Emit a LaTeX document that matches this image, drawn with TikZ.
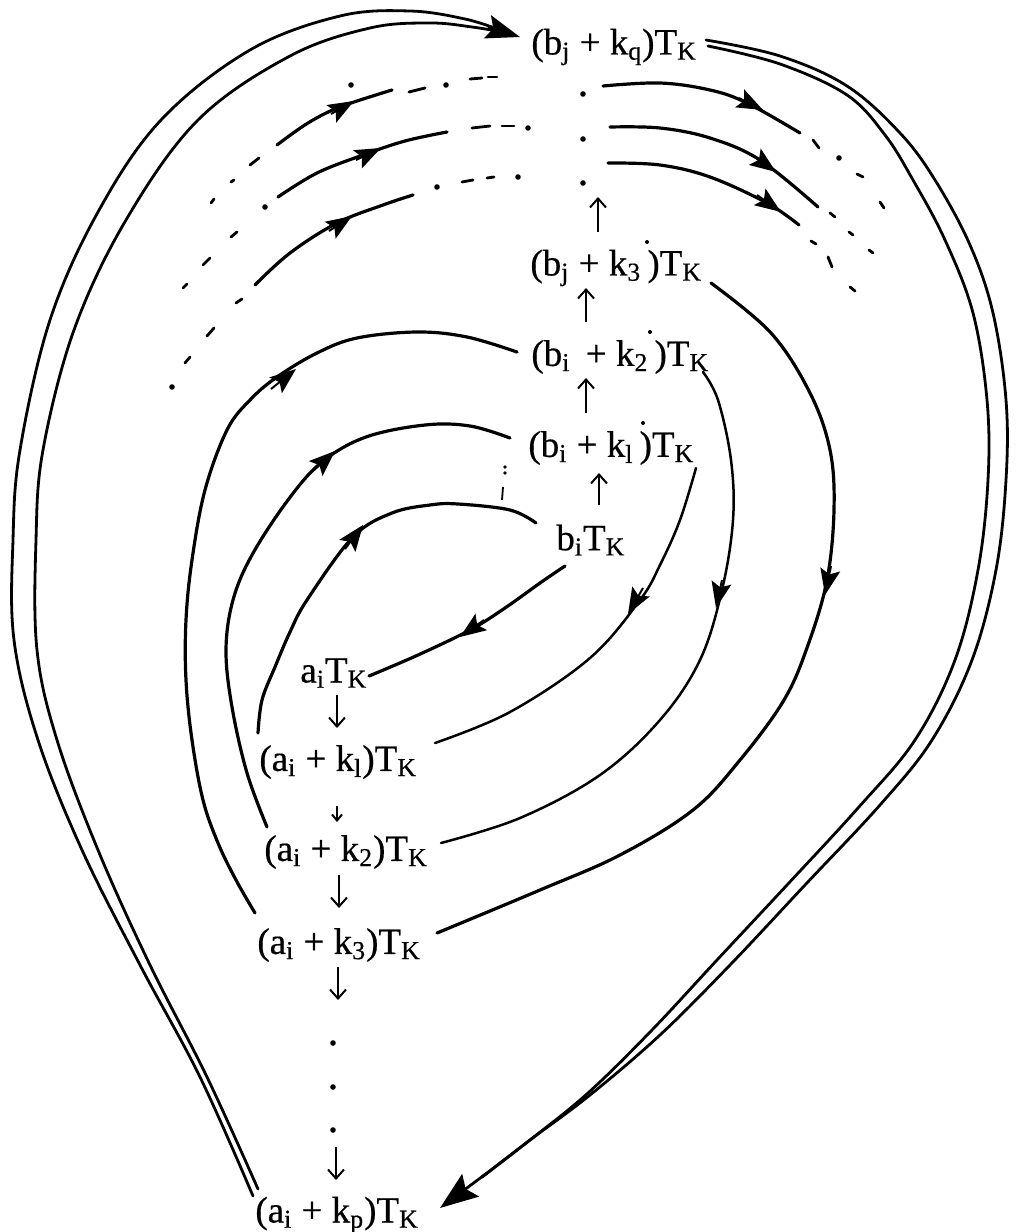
\documentclass[tikz,border=0pt]{standalone}
\usepackage{fontspec}
\setmainfont{Liberation Serif}
\newfontfamily\lblfont{Liberation Serif}[FakeBold=0.5]
\usetikzlibrary{arrows.meta}
\newcommand{\sbs}[1]{\textsubscript{#1}}
\begin{document}
\begin{tikzpicture}[x=0.5pt,y=-0.5pt,
  lbl/.style={inner sep=0pt, anchor=west, font=\lblfont\fontsize{18.5}{22}\selectfont},
  curve/.style={line width=1.6pt, line cap=round},
  thincurve/.style={line width=1.25pt, line cap=round},
  outerline/.style={line width=1.4pt, line cap=round},
  midarrow/.style={-{Stealth[length=13pt,width=10pt,inset=2.5pt]}, line width=1pt},
  bigarrow/.style={-{Stealth[length=17pt,width=12pt,inset=3pt]}, line width=1.4pt},
  vert/.style={-{Straight Barb[length=4.5pt,width=8pt]}, line width=1pt},
  dsh/.style={line width=1.4pt, line cap=round},
  dotr/.style={radius=1.4pt},
]
\fill[white] (0,0) rectangle (1017,1232);
\useasboundingbox (0,0) rectangle (1017,1232);

% ---------- labels ----------
\node[lbl] (bq) at (531,47)  {(b\sbs{j} + k\sbs{q})T\sbs{K}};
\node[lbl] (b3) at (530,268) {(b\sbs{j} + k\sbs{3}\,)T\sbs{K}};
\node[lbl] (b2) at (531,357) {(b\sbs{i}\, + k\sbs{2}\,)T\sbs{K}};
\node[lbl] (b1) at (528,448) {(b\sbs{i} + k\sbs{l}\,)T\sbs{K}};
\node[lbl] (b0) at (556,540) {b\sbs{i}T\sbs{K}};
\node[lbl] (a0) at (300,673) {a\sbs{i}T\sbs{K}};
\node[lbl] (a1) at (259,762) {(a\sbs{i} + k\sbs{l})T\sbs{K}};
\node[lbl] (a2) at (264,852) {(a\sbs{i} + k\sbs{2})T\sbs{K}};
\node[lbl] (a3) at (257,945) {(a\sbs{i} + k\sbs{3})T\sbs{K}};
\node[lbl] (ap) at (255,1215) {(a\sbs{i} + k\sbs{p})T\sbs{K}};

% ---------- end coordinates ----------
\coordinate (apL1) at (253,1196);
\coordinate (apL2) at (258,1189);
\coordinate (bqW) at (520,37);
\coordinate (bqE1) at (706,40);
\coordinate (bqE2) at (708,46);
\coordinate (apE) at (440,1208);
\coordinate (b0S) at (565,566);
\coordinate (a0E) at (369,676);
\coordinate (b1E) at (696,468);
\coordinate (a1E) at (435,743);
\coordinate (b2E) at (703,372);
\coordinate (a2E) at (441,843);
\coordinate (b3E) at (711,283);
\coordinate (a3E) at (437,933);
\coordinate (a1W) at (258,733);
\coordinate (b0W) at (536,523);
\coordinate (a2W) at (267,827);
\coordinate (b1W) at (510,438);
\coordinate (a3W) at (255,913);
\coordinate (b2W) at (517,352);

% ---------- outer loops ----------
\draw[outerline] plot[smooth,tension=0.6] coordinates {(apL1) (200,1077) (140,965) (82,850) (38,740) (14,640) (13,540) (20,450) (50,320) (98,212) (161,120) (250,50) (340,16) (410,11) (465,19) (500,30)};
\draw[outerline] plot[smooth,tension=0.6] coordinates {(apL2) (207,1077) (150,965) (98,850) (57,740) (37,650) (36,540) (43,450) (74,330) (126,220) (198,120) (290,56) (370,28) (430,23) (472,27) (502,32)};
\draw[bigarrow] (488,27) -- (bqW);

\draw[outerline] plot[smooth,tension=0.6] coordinates {(bqE1) (780,56) (847,86) (900,133) (935,180) (970,245) (993,313) (1006,400) (1006,480) (996,570) (972,660) (932,740) (880,805) (805,885) (730,965) (660,1035) (590,1095) (530,1140) (482,1177)};
\draw[outerline] plot[smooth,tension=0.6] coordinates {(bqE2) (780,64) (847,95) (885,135) (913,180) (945,240) (973,313) (987,400) (988,480) (978,570) (955,660) (915,740) (858,808) (787,885) (717,960) (652,1030) (588,1093) (530,1140) (482,1177)};
\draw[bigarrow, -{Stealth[length=19pt,width=14pt,inset=3pt]}] (487,1173) -- (apE);

% ---------- right arcs (down) ----------
\draw[curve] plot[smooth,tension=0.6] coordinates {(b0S) (540,583) (505,608) (470,630) (418,655) (a0E)};
\draw[midarrow] (484,620) -- (460,637);
\draw[thincurve] plot[smooth,tension=0.6] coordinates {(b1E) (680,520) (660,565) (640,600) (590,658) (510,712) (a1E)};
\draw[midarrow] (643,588) -- (628,614);
\draw[thincurve] plot[smooth,tension=0.6] coordinates {(b2E) (718,400) (731,460) (733,520) (722,590) (700,660) (660,720) (600,775) (520,818) (a2E)};
\draw[midarrow] (722,580) -- (716,608);
\draw[curve] plot[smooth,tension=0.6] coordinates {(b3E) (771,333) (810,393) (830,450) (834,510) (827,580) (808,645) (784,700) (740,760) (693,810) (620,855) (540,890) (a3E)};
\draw[midarrow] (831,566) -- (825,595);

% ---------- left arcs (up) ----------
\draw[curve] plot[smooth,tension=0.6] coordinates {(a1W) (262,700) (275,667) (290,632) (307,600) (353,537) (392,513) (430,505) (458,504) (510,510) (b0W)};
\draw[midarrow] (345,549) -- (363,525);
\draw[curve] plot[smooth,tension=0.6] coordinates {(a2W) (247,773) (232,707) (226,650) (233,600) (252,555) (288,500) (322,462) (366,437) (425,425) (470,426) (b1W)};
\draw[midarrow] (313,471) -- (335,451);
\draw[curve] plot[smooth,tension=0.6] coordinates {(a3W) (236,880) (218,843) (203,800) (192,740) (186,680) (186,620) (192,560) (205,490) (227,430) (250,400) (277,377) (317,353) (357,338) (417,332) (467,337) (b2W)};
\draw[midarrow] (271,389) -- (296,369);

% ---------- dashed outer arcs ----------
\draw[curve] plot[smooth,tension=0.6] coordinates {(277,145) (308,123) (340,107) (392,90)};
\draw[midarrow] (331,114) -- (354,101);
\draw[curve] plot[smooth,tension=0.6] coordinates {(278,197) (317,173) (363,155) (405,141) (447,132)};
\draw[midarrow] (356,160) -- (381,148);
\draw[curve] plot[smooth,tension=0.6] coordinates {(255,285) (290,253) (337,223) (383,205) (413,195)};
\draw[midarrow] (329,231) -- (352,216);

\draw[curve] plot[smooth,tension=0.6] coordinates {(603,86) (660,83) (710,90) (747,103) (800,133)};
\draw[midarrow] (739,98) -- (763,110);
\draw[curve] plot[smooth,tension=0.6] coordinates {(610,127) (660,128) (710,138) (760,160) (818,207)};
\draw[midarrow] (751,154) -- (776,172);
\draw[curve] plot[smooth,tension=0.6] coordinates {(608,163) (660,165) (710,177) (767,203) (799,225)};
\draw[midarrow] (757,195) -- (781,212);

% dashes, left lower
\draw[dsh] (250,165) -- (259,158);
\draw[dsh] (231,182) -- (234,180);
\draw[dsh] (211,203) -- (214,199);
\fill (265,207) circle[dotr];
\draw[dsh] (231,237) -- (237,232);
\draw[dsh] (203,265) -- (210,258);
\draw[dsh] (183,288) -- (187,284);
\draw[dsh] (236,303) -- (242,299);
\draw[dsh] (207,336) -- (214,328);
\draw[dsh] (185,363) -- (190,357);
\fill (172,387) circle[dotr];
% dashes, left upper
\draw[dsh] (409,92) -- (425,88);
\fill (446,85) circle[dotr];
\draw[dsh] (470,79) -- (482,78);
\draw[dsh] (488,77) -- (497,77);
\fill (351,85) circle[dotr];
\draw[dsh] (472,128) -- (490,126);
\draw[dsh] (502,126) -- (514,126);
\fill (528,128) circle[dotr];
\fill (437,187) circle[dotr];
\draw[dsh] (462,182) -- (473,180);
\draw[dsh] (487,178) -- (494,177);
\fill (518,177) circle[dotr];
% centre dots
\fill (583,94) circle[dotr];
\fill (583,139) circle[dotr];
\fill (583,183) circle[dotr];
% dashes, right
\draw[dsh] (813,140) -- (819,148);
\fill (839,158) circle[dotr];
\draw[dsh] (857,174) -- (863,177);
\draw[dsh] (880,202) -- (884,208);
\draw[dsh] (830,213) -- (835,217);
\draw[dsh] (849,232) -- (853,235);
\draw[dsh] (869,250) -- (873,253);
\draw[dsh] (811,241) -- (816,244);
\draw[dsh] (828,257) -- (832,267);
\draw[dsh] (850,287) -- (855,291);

% small marks near b nodes
\fill (505,467) circle[radius=0.9pt];
\fill (505,473) circle[radius=0.9pt];
\draw[line width=0.9pt] (503,487) -- (502,500);
\fill (647,242) circle[radius=1pt];
\fill (650,332) circle[radius=1pt];
\fill (643,423) circle[radius=1pt];

% ---------- vertical arrows ----------
\draw[vert] (598,232) -- (598,197);
\draw[vert] (586,322) -- (586,288);
\draw[vert] (586,413) -- (586,378);
\draw[vert] (599,505) -- (599,473);
\draw[vert] (337,695) -- (337,728);
\draw[vert, -{Straight Barb[length=3pt,width=5pt]}] (337,806) -- (337,822);
\draw[vert] (339,875) -- (339,908);
\draw[vert] (338,967) -- (338,1000);
\fill (333,1043) circle[dotr];
\fill (333,1087) circle[dotr];
\fill (333,1130) circle[dotr];
\draw[vert] (336,1147) -- (336,1180);
\end{tikzpicture}
\end{document}
